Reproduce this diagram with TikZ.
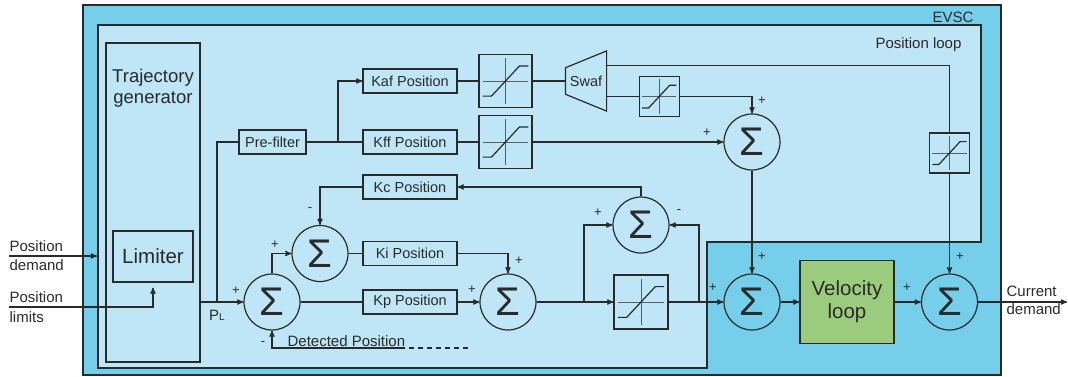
\documentclass[tikz,border=0pt]{standalone}
\usepackage{fontspec}
\setmainfont{Liberation Sans}
\usetikzlibrary{arrows,calc}
\definecolor{evsc}{RGB}{118,207,234}
\definecolor{ploop}{RGB}{190,230,246}
\definecolor{velgreen}{RGB}{155,204,125}
\definecolor{linec}{RGB}{42,42,42}
\definecolor{axisc}{RGB}{95,95,95}

\tikzset{
  kbox/.style={draw, minimum width=94, minimum height=24, inner sep=0pt,
    font=\fontsize{14.5}{16}\selectfont},
  sum/.style={circle, draw, minimum size=56, inner sep=0pt,
    font=\fontsize{40}{40}\selectfont},
  sat/.style={draw, minimum width=#1, minimum height=#1, inner sep=0pt,
    path picture={
      \draw[axisc, line width=0.9pt]
        ([shift={(-0.43*#1,0)}]path picture bounding box.center)
        -- ([shift={(0.43*#1,0)}]path picture bounding box.center)
        ([shift={(0,-0.43*#1)}]path picture bounding box.center)
        -- ([shift={(0,0.43*#1)}]path picture bounding box.center);
      \draw ([shift={(-0.43*#1,0.285*#1)}]path picture bounding box.center)
        -- ([shift={(-0.265*#1,0.285*#1)}]path picture bounding box.center)
        -- ([shift={(0.265*#1,-0.285*#1)}]path picture bounding box.center)
        -- ([shift={(0.43*#1,-0.285*#1)}]path picture bounding box.center);}},
  sign/.style={inner sep=0pt, font=\fontsize{13}{13}\selectfont},
  lbl/.style={inner sep=0pt, align=left, font=\fontsize{15}{18}\selectfont},
}

\begin{document}
\begin{tikzpicture}[x=1pt,y=-1pt,>=stealth',line width=1.2pt,color=linec]
    \useasboundingbox (0,0) rectangle (1068,376);

    % EVSC and position loop frames
    \filldraw[fill=evsc] (83,5) rectangle (1001,375);
    \filldraw[fill=ploop] (98,25) -- (981,25) -- (981,242) -- (707,242)
        -- (707,368) -- (98,368) -- cycle;
    \node[lbl, anchor=base east] (evsctxt) at (974,22) {EVSC};
    \node[lbl, anchor=base east] (looptxt) at (962,48) {Position loop};

    % inputs
    \node[draw, minimum width=94, minimum height=319,
        label={[lbl, align=center, font=\fontsize{18.5}{21.5}\selectfont,
        anchor=north, yshift=-26]north:Trajectory\\generator}] (traj) at (153,202.5) {};
    \node[draw, minimum width=80, minimum height=51,
        font=\fontsize{20.5}{24}\selectfont] (limiter) at (153,256.5) {Limiter};
    \node[lbl, anchor=west, font=\fontsize{15}{19}\selectfont] (pdem) at (9,256) {Position\\demand};
    \node[lbl, anchor=west, font=\fontsize{15}{19.4}\selectfont] (plim) at (9,307) {Position\\limits};
    \coordinate (pdemin) at (97,256);

    % gains
    \node[kbox, minimum width=67] (prefilter) at (272.5,142) {Pre-filter};
    \node[kbox] (kff) [right of=prefilter, node distance=137.5pt] {Kff Position};
    \node[kbox] (kaf) [above of=kff, node distance=61pt] {Kaf Position};
    \node[kbox] (kc) [below of=kff, node distance=45pt] {Kc Position};
    \node[kbox] (ki) [below of=kc, node distance=66.5pt] {Ki Position};
    \node[kbox] (kp) [below of=ki, node distance=48.5pt] {Kp Position};

    % limits and Swaf
    \node[sat=53] (sat1) [right of=kaf, node distance=95.5pt] {};
    \node[sat=53] (sat2) [right of=kff, node distance=95.5pt] {};
    \node[minimum width=40, minimum height=59, inner sep=0pt,
        font=\fontsize{14.5}{16}\selectfont] (swaf) [right of=sat1, node distance=80.5pt] {Swaf};
    \draw (swaf.north east) -- (swaf.south east)
        -- ($(swaf.south west)!0.28!(swaf.north west)$)
        -- ($(swaf.south west)!0.72!(swaf.north west)$) -- cycle;
    \coordinate (swafa) at ($(swaf.north east)!0.24!(swaf.south east)$);
    \coordinate (swafb) at ($(swaf.south east)!0.24!(swaf.north east)$);
    \node[sat=40] (sat4) [right of=swafb, node distance=52.5pt] {};

    % summing points
    \node[sum] (sA) [right of=sat2, node distance=246.5pt] {Σ};
    \node[sum] (sB) [below of=sA, node distance=160pt] {Σ};
    \node[draw, fill=velgreen, minimum width=94, minimum height=83, align=center,
        font=\fontsize{20.5}{23}\selectfont] (vel) [right of=sB, node distance=95pt] {Velocity\\loop};
    \node[sum] (sF) [right of=vel, node distance=102.5pt] {Σ};
    \node[sat=40] (sat3) [above of=sF, node distance=149pt] {};
    \node[sum] (s1) at (272,302) {Σ};
    \node[sum] (sC) at (320,253.5) {Σ};
    \node[sum] (sE) [right of=kp, node distance=98pt] {Σ};
    \node[sat=54] (sat5) [right of=sE, node distance=133pt] {};
    \node[sum] (sD) [above of=sat5, node distance=77pt] {Σ};

    % output
    \node[lbl, anchor=west] (curdem) at (1006,300.5) {Current\\demand};
    \coordinate (curout) at (1067,302);

    % connections
    \draw[->] (pdem.west) -- (pdemin);
    \draw[->, shorten >=5pt] (plim.west) -| (limiter.south);
    \draw[->] (traj.east |- s1) -- (s1);
    \coordinate (jpl) at (217,302);
    \draw (jpl) |- (prefilter);
    \draw (prefilter) -- (kff);
    \coordinate (jpf) at (338,142);
    \draw[->] (jpf) |- (kaf);
    \draw (kaf) -- (sat1);
    \draw (sat1) -- (swaf.west);
    \draw (swafa) -| (sat3);
    \draw[->] (sat3) -- (sF);
    \draw (swafb) -- (sat4);
    \draw[->] (sat4) -| (sA);
    \draw (kff) -- (sat2);
    \draw[->] (sat2) -- (sA);
    \draw[->] (sA) -- (sB);
    \draw[->] (sB) -- (vel);
    \draw[->] (vel) -- (sF);
    \draw[->] (sF) -- (curout);
    \draw[->] (sD) |- (kc);
    \draw[->] (kc) -| (sC);
    \draw[->] (s1) |- (sC);
    \draw (sC) -- (ki);
    \draw[->] (ki) -| (sE);
    \draw (s1) -- (kp);
    \draw[->] (kp) -- (sE);
    \draw[->] (sE) -- (sat5);
    \coordinate (jE) at (584,302);
    \draw[->] (jE) |- (sD);
    \draw[->] (sat5) -- (sB);
    \coordinate (j5) at (699,302);
    \draw[->] (j5) |- (sD);

    % detected position feedback
    \coordinate (det1) at (405,348);
    \coordinate (det2) at (468,348);
    \draw[dash pattern=on 5pt off 4pt] (det2) -- (det1);
    \draw[->] (det1) -| (s1);
    \node[lbl, anchor=base west] (dettxt) at (287,346) {Detected Position};
    \node[lbl] (pl) at (217,315) {P{\fontsize{10}{10}\selectfont L}};

    % signs
    \node[sign] (s1a) at (236,291) {+};
    \node[sign] (s1b) at (263,344) {-};
    \node[sign] (sCa) at (275,245) {+};
    \node[sign] (sCb) at (310,210) {-};
    \node[sign] (sEa) at (519,261) {+};
    \node[sign] (sEb) at (472,290) {+};
    \node[sign] (sDa) at (598,213) {+};
    \node[sign] (sDb) at (679,212) {-};
    \node[sign] (sAa) at (762,101) {+};
    \node[sign] (sAb) at (707,133) {+};
    \node[sign] (sBa) at (713,288) {+};
    \node[sign] (sBb) at (762,257) {+};
    \node[sign] (sFa) at (907,288) {+};
    \node[sign] (sFb) at (960,257) {+};

\end{tikzpicture}
\end{document}
